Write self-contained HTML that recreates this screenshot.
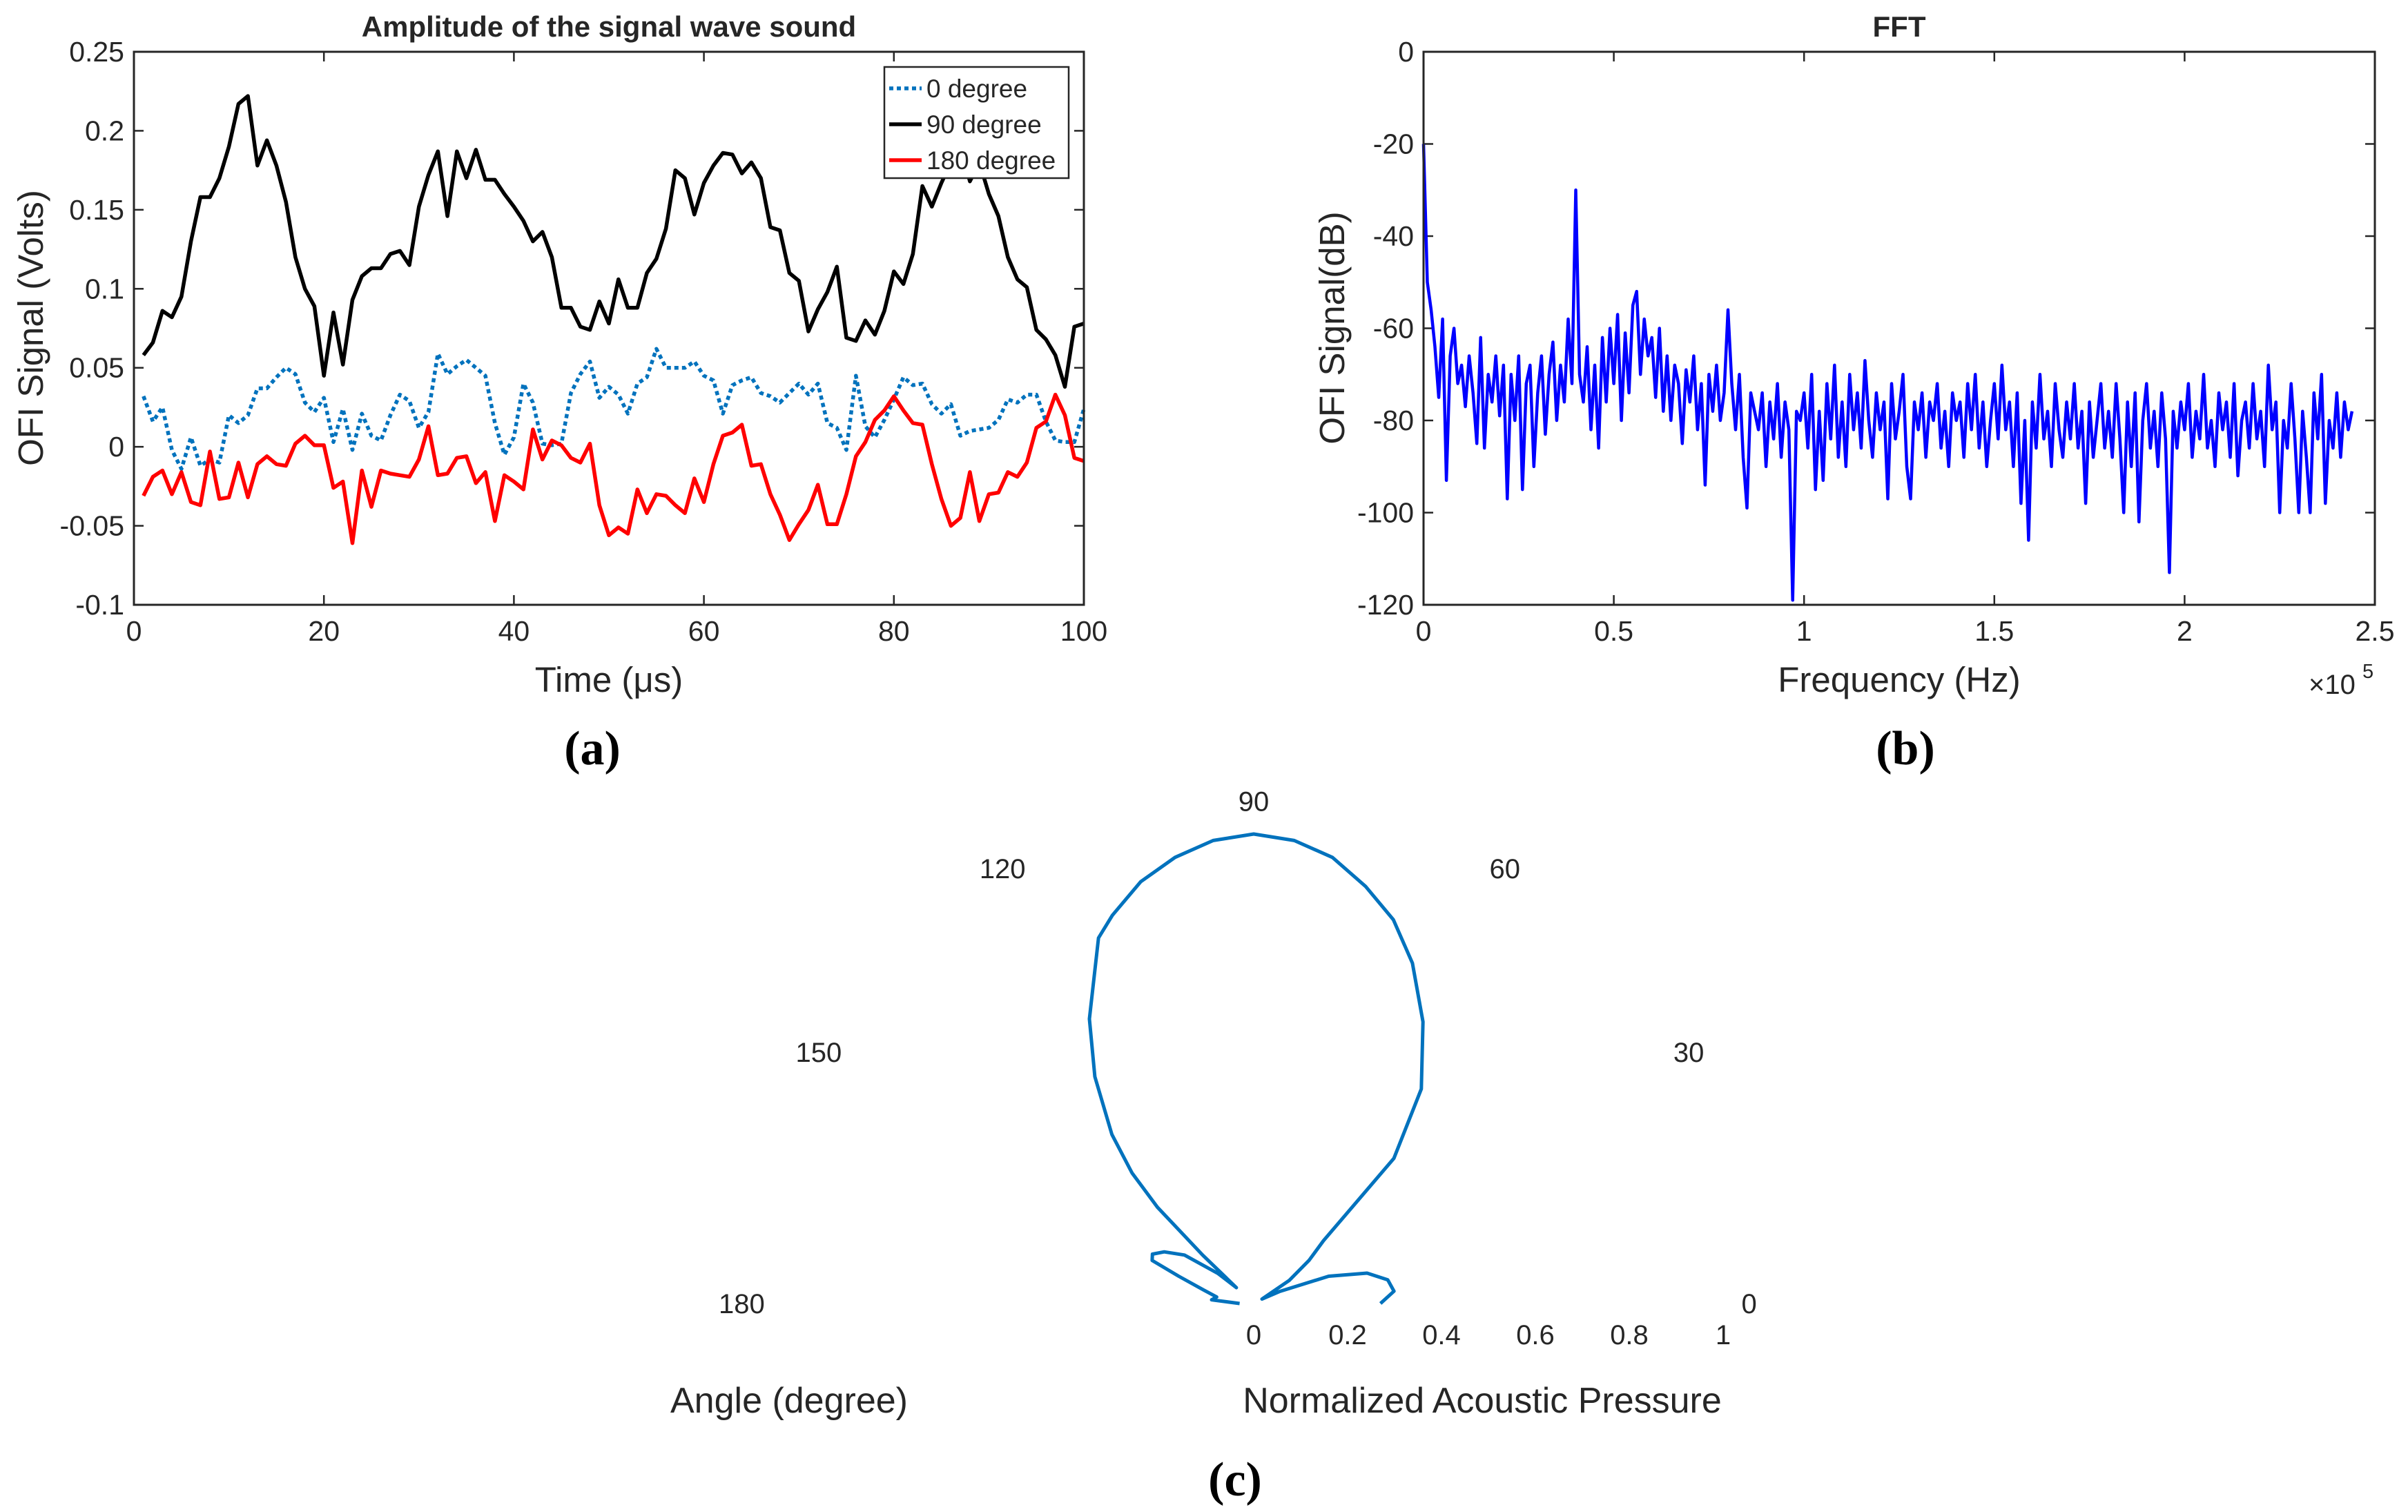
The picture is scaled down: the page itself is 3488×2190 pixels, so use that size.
<!DOCTYPE html>
<html><head><meta charset="utf-8">
<style>
html,body{margin:0;padding:0;background:#fff;}
svg{display:block;}
text{font-family:"Liberation Sans",Arial,sans-serif;fill:#262626;}
.tk{font-size:41px;}
.ser{font-family:"Liberation Serif",serif;font-weight:bold;font-size:70px;fill:#000;}
</style></head>
<body>
<svg id="s" width="3488" height="2190" viewBox="0 0 3488 2190" xmlns="http://www.w3.org/2000/svg">
<g id="pa"></g>
<g id="pb"></g>
<g id="pc"></g>
</svg>
<script>
// ---------- Panel (a) data ----------
const timeX = Array.from({length:100},(_,i)=>i+1);
const aYTicks = [-0.1,-0.05,0,0.05,0.1,0.15,0.2,0.25];
const aYTickLabels = ["-0.1","-0.05","0","0.05","0.1","0.15","0.2","0.25"];
const aXTicks = [0,20,40,60,80,100];
const aXTickLabels = ["0","20","40","60","80","100"];
const deg0 = [.032,.016,.025,-.002,-.014,.006,-.012,-.008,-.01,.02,.015,.02,.037,.037,.044,.05,.046,.028,.022,.031,.003,.024,-.002,.021,.007,.004,.02,.033,.029,.012,.022,.059,.046,.051,.055,.05,.045,.015,-.005,.006,.04,.028,.002,.001,.002,.034,.046,.054,.031,.038,.033,.021,.04,.044,.062,.05,.05,.05,.054,.045,.042,.021,.039,.042,.044,.034,.032,.028,.034,.04,.033,.04,.015,.012,-.002,.045,.013,.006,.017,.03,.044,.039,.04,.027,.021,.027,.007,.01,.011,.012,.017,.03,.028,.033,.033,.016,.004,.003,.003,.024];
const deg90 = [.058,.066,.086,.082,.095,.13,.158,.158,.17,.19,.217,.222,.178,.194,.178,.155,.12,.1,.089,.045,.085,.052,.093,.108,.113,.113,.122,.124,.115,.152,.172,.187,.146,.187,.17,.188,.169,.169,.16,.152,.143,.13,.136,.12,.088,.088,.076,.074,.092,.078,.106,.088,.088,.11,.119,.138,.175,.17,.147,.167,.178,.186,.185,.173,.18,.17,.139,.137,.11,.105,.073,.087,.098,.114,.069,.067,.08,.071,.086,.111,.103,.122,.165,.152,.167,.18,.19,.168,.18,.16,.146,.12,.106,.101,.074,.068,.058,.038,.076,.078];
const deg180 = [-.031,-.019,-.015,-.03,-.016,-.035,-.037,-.003,-.033,-.032,-.01,-.032,-.011,-.006,-.011,-.012,.002,.007,.001,.001,-.026,-.022,-.061,-.015,-.038,-.015,-.017,-.018,-.019,-.008,.013,-.018,-.017,-.007,-.006,-.023,-.016,-.047,-.018,-.022,-.027,.011,-.008,.004,.001,-.007,-.01,.002,-.037,-.056,-.051,-.055,-.027,-.042,-.03,-.031,-.037,-.042,-.02,-.035,-.011,.007,.009,.014,-.012,-.011,-.03,-.043,-.059,-.049,-.04,-.024,-.049,-.049,-.03,-.006,.003,.017,.023,.032,.023,.015,.014,-.011,-.033,-.05,-.045,-.016,-.047,-.03,-.029,-.016,-.019,-.01,.012,.016,.033,.02,-.007,-.009];

// ---------- Panel (b) data ----------
const fftFreqK = Array.from({length:245},(_,i)=>i); // kHz
const fftDb = [-20,-50,-56,-64,-75,-58,-93,-66,-60,-72,
-68,-77,-66,-74,-85,-62,-86,-70,-76,-66,
-79,-68,-97,-70,-80,-66,-95,-72,-68,-90,
-74,-66,-83,-70,-63,-80,-68,-76,-58,-72,
-30,-70,-76,-64,-82,-68,-86,-62,-76,-60,
-72,-57,-80,-61,-74,-55,-52,-70,-58,-66,
-62,-75,-60,-78,-66,-80,-68,-72,-85,-69,
-76,-66,-82,-72,-94,-70,-78,-68,-80,-74,
-56,-72,-82,-70,-88,-99,-74,-78,-82,-74,
-90,-76,-84,-72,-88,-76,-82,-119,-78,-80,
-74,-86,-70,-95,-78,-93,-72,-84,-68,-88,
-76,-90,-70,-82,-74,-86,-67,-80,-88,-74,
-82,-76,-97,-72,-84,-78,-70,-90,-97,-76,
-82,-74,-88,-76,-80,-72,-86,-78,-90,-74,
-80,-76,-88,-72,-82,-70,-86,-76,-90,-80,
-72,-84,-68,-82,-76,-90,-74,-98,-80,-106,
-76,-86,-70,-84,-78,-90,-72,-82,-88,-76,
-84,-72,-86,-78,-98,-76,-88,-80,-72,-86,
-78,-88,-72,-84,-100,-76,-90,-74,-102,-80,
-72,-86,-78,-90,-74,-84,-113,-78,-86,-76,
-82,-72,-88,-78,-84,-70,-86,-80,-90,-74,
-82,-76,-88,-72,-92,-80,-76,-86,-72,-84,
-78,-90,-68,-82,-76,-100,-80,-86,-72,-84,
-100,-78,-88,-100,-74,-84,-70,-98,-80,-86,
-74,-88,-76,-82,-78];
const bYTicks = [0,-20,-40,-60,-80,-100,-120];
const bYTickLabels = ["0","-20","-40","-60","-80","-100","-120"];
const bXTicks = [0,0.5,1,1.5,2,2.5];
const bXTickLabels = ["0","0.5","1","1.5","2","2.5"];

// ---------- Panel (c) data ----------
const polarAngles = [0,5,10,15,20,25,28,33,38,42,46,52,59,65,70,75,80,85,90,95,100,105,110,113,120,125,130,133,135,136.5,137.5,140,145,150,154,157,160,165,170,175,180];
const polarR = [.27,.30,.29,.25,.17,.06,.02,.09,.15,.20,.43,.58,.70,.80,.87,.92,.965,.99,1.0,.99,.965,.93,.88,.846,.70,.59,.47,.38,.29,.15,.05,.10,.18,.22,.24,.235,.17,.11,.08,.09,.03];
const polarAngleLabels = ["0","30","60","90","120","150","180"];
const polarAngleTicks = [0,30,60,90,120,150,180];
const polarRTicks = [0,0.2,0.4,0.6,0.8,1];
const polarRTickLabels = ["0","0.2","0.4","0.6","0.8","1"];

const NS="http://www.w3.org/2000/svg";
function mk(parent,tag,attrs,txt){const e=document.createElementNS(NS,tag);for(const k in attrs)e.setAttribute(k,attrs[k]);if(txt!==undefined)e.textContent=txt;parent.appendChild(e);return e;}

// ===== Panel A =====
(function(){
const g=document.getElementById('pa');
const L=194,R=1570,T=75,B=876;
const sx=v=>L+(v-0)/(100-0)*(R-L);
const sy=v=>B-(v-(-0.1))/(0.35)*(B-T);
let t;
t=mk(g,'text',{x:(L+R)/2,y:53,'text-anchor':'middle','font-size':'42','font-weight':'bold',fill:'#000'},'Amplitude of  the signal wave sound');


aYTicks.forEach((v,i)=>{
  const y=sy(v);
  let l=mk(g,'line',{x1:L,x2:L+14,y1:y,y2:y,stroke:'#262626','stroke-width':2.5});
  
  
  mk(g,'line',{x1:R,x2:R-14,y1:y,y2:y,stroke:'#262626','stroke-width':2.5});
  let tx=mk(g,'text',{x:L-14,y:y+14,'text-anchor':'end',class:'tk'},aYTickLabels[i]);
  
  
});
aXTicks.forEach((v,i)=>{
  const x=sx(v);
  mk(g,'line',{x1:x,x2:x,y1:B,y2:B-14,stroke:'#262626','stroke-width':2.5});
  mk(g,'line',{x1:x,x2:x,y1:T,y2:T+14,stroke:'#262626','stroke-width':2.5});
  let tx=mk(g,'text',{x:x,y:B+52,'text-anchor':'middle',class:'tk'},aXTickLabels[i]);
  
  
});
function series(arr,color,dash,name){
  const d=arr.map((v,i)=>(i?'L':'M')+sx(timeX[i]).toFixed(1)+' '+sy(v).toFixed(1)).join(' ');
  const p=mk(g,'path',{d:d,fill:'none',stroke:color,'stroke-width':5.5,'stroke-linejoin':'round'});
  if(dash)p.setAttribute('stroke-dasharray',dash);
  
  
}
series(deg90,'#000',null,'line-90-degree');
series(deg0,'#0072BD','6 5','line-0-degree');
series(deg180,'#ff0000',null,'line-180-degree');
let box=mk(g,'rect',{x:L,y:T,width:R-L,height:B-T,fill:'none',stroke:'#262626','stroke-width':3});


const lg=mk(g,'g',{});


mk(lg,'rect',{x:1281,y:97,width:267,height:161,fill:'#fff',stroke:'#262626','stroke-width':2.5});
const ent=[['0 degree','#0072BD','6 5'],['90 degree','#000',null],['180 degree','#ff0000',null]];
ent.forEach((e,i)=>{
  const y=128+i*52;
  const ln=mk(lg,'line',{x1:1288,x2:1335,y1:y,y2:y,stroke:e[1],'stroke-width':5.5});
  if(e[2])ln.setAttribute('stroke-dasharray',e[2]);
  let tx=mk(lg,'text',{x:1342,y:y+13,'font-size':'37',fill:'#000'},e[0]);
  
  
});
t=mk(g,'text',{x:(L+R)/2,y:1002,'text-anchor':'middle','font-size':'51'},'Time (μs)');


t=mk(g,'text',{x:0,y:0,'text-anchor':'middle','font-size':'51',transform:'translate(62,475) rotate(-90)'},'OFI Signal (Volts)');


t=mk(g,'text',{x:858,y:1107,'text-anchor':'middle',class:'ser'},'(a)');


})();

// ===== Panel B =====
(function(){
const g=document.getElementById('pb');
const L=2062,R=3440,T=75,B=876;
const sx=v=>L+v/2.5*(R-L);
const sy=v=>B-(v+120)/120*(B-T);
let t;
t=mk(g,'text',{x:(L+R)/2,y:53,'text-anchor':'middle','font-size':'42','font-weight':'bold',fill:'#000'},'FFT');


bYTicks.forEach((v,i)=>{
  const y=sy(v);
  mk(g,'line',{x1:L,x2:L+14,y1:y,y2:y,stroke:'#262626','stroke-width':2.5});
  mk(g,'line',{x1:R,x2:R-14,y1:y,y2:y,stroke:'#262626','stroke-width':2.5});
  let tx=mk(g,'text',{x:L-14,y:y+14,'text-anchor':'end',class:'tk'},bYTickLabels[i]);
  
  
});
bXTicks.forEach((v,i)=>{
  const x=sx(v);
  mk(g,'line',{x1:x,x2:x,y1:B,y2:B-14,stroke:'#262626','stroke-width':2.5});
  mk(g,'line',{x1:x,x2:x,y1:T,y2:T+14,stroke:'#262626','stroke-width':2.5});
  let tx=mk(g,'text',{x:x,y:B+52,'text-anchor':'middle',class:'tk'},bXTickLabels[i]);
  
  
});
const d=fftDb.map((v,i)=>(i?'L':'M')+sx(fftFreqK[i]/100).toFixed(1)+' '+sy(v).toFixed(1)).join(' ');
const p=mk(g,'path',{d:d,fill:'none',stroke:'#0000ff','stroke-width':4.5,'stroke-linejoin':'round'});


let box=mk(g,'rect',{x:L,y:T,width:R-L,height:B-T,fill:'none',stroke:'#262626','stroke-width':3});


t=mk(g,'text',{x:(L+R)/2,y:1002,'text-anchor':'middle','font-size':'51'},'Frequency (Hz)');


t=mk(g,'text',{x:3344,y:1005,'font-size':'40'},'×10');


mk(g,'text',{x:3422,y:982,'font-size':'29'},'5');
t=mk(g,'text',{x:0,y:0,'text-anchor':'middle','font-size':'51',transform:'translate(1947,475) rotate(-90)'},'OFI Signal(dB)');


t=mk(g,'text',{x:2760,y:1107,'text-anchor':'middle',class:'ser'},'(b)');


})();

// ===== Panel C =====
(function(){
const g=document.getElementById('pc');
const cx=1816,cy=1888,Rp=680;
const px=(a,r)=>cx+r*Rp*Math.cos(a*Math.PI/180);
const py=(a,r)=>cy-r*Rp*Math.sin(a*Math.PI/180);
const d=polarAngles.map((a,i)=>(i?'L':'M')+px(a,polarR[i]).toFixed(1)+' '+py(a,polarR[i]).toFixed(1)).join(' ');
const p=mk(g,'path',{d:d,fill:'none',stroke:'#0072BD','stroke-width':5,'stroke-linejoin':'round'});


polarAngleTicks.forEach((a,i)=>{
  const x=px(a,1.07)+(a===0?-10:(a===180?-14:0)),y=py(a,1.07);
  let tx=mk(g,'text',{x:x,y:y+14,'text-anchor':'middle','font-size':'40'},polarAngleLabels[i]);
  
  
});
polarRTicks.forEach((r,i)=>{
  let tx=mk(g,'text',{x:px(0,r),y:1947,'text-anchor':'middle','font-size':'40'},polarRTickLabels[i]);
  
  
});
let t=mk(g,'text',{x:1143,y:2046,'text-anchor':'middle','font-size':'52'},'Angle (degree)');


t=mk(g,'text',{x:2147,y:2046,'text-anchor':'middle','font-size':'52'},'Normalized Acoustic Pressure');


t=mk(g,'text',{x:1789,y:2166,'text-anchor':'middle',class:'ser'},'(c)');


})();
</script>
</body></html>
